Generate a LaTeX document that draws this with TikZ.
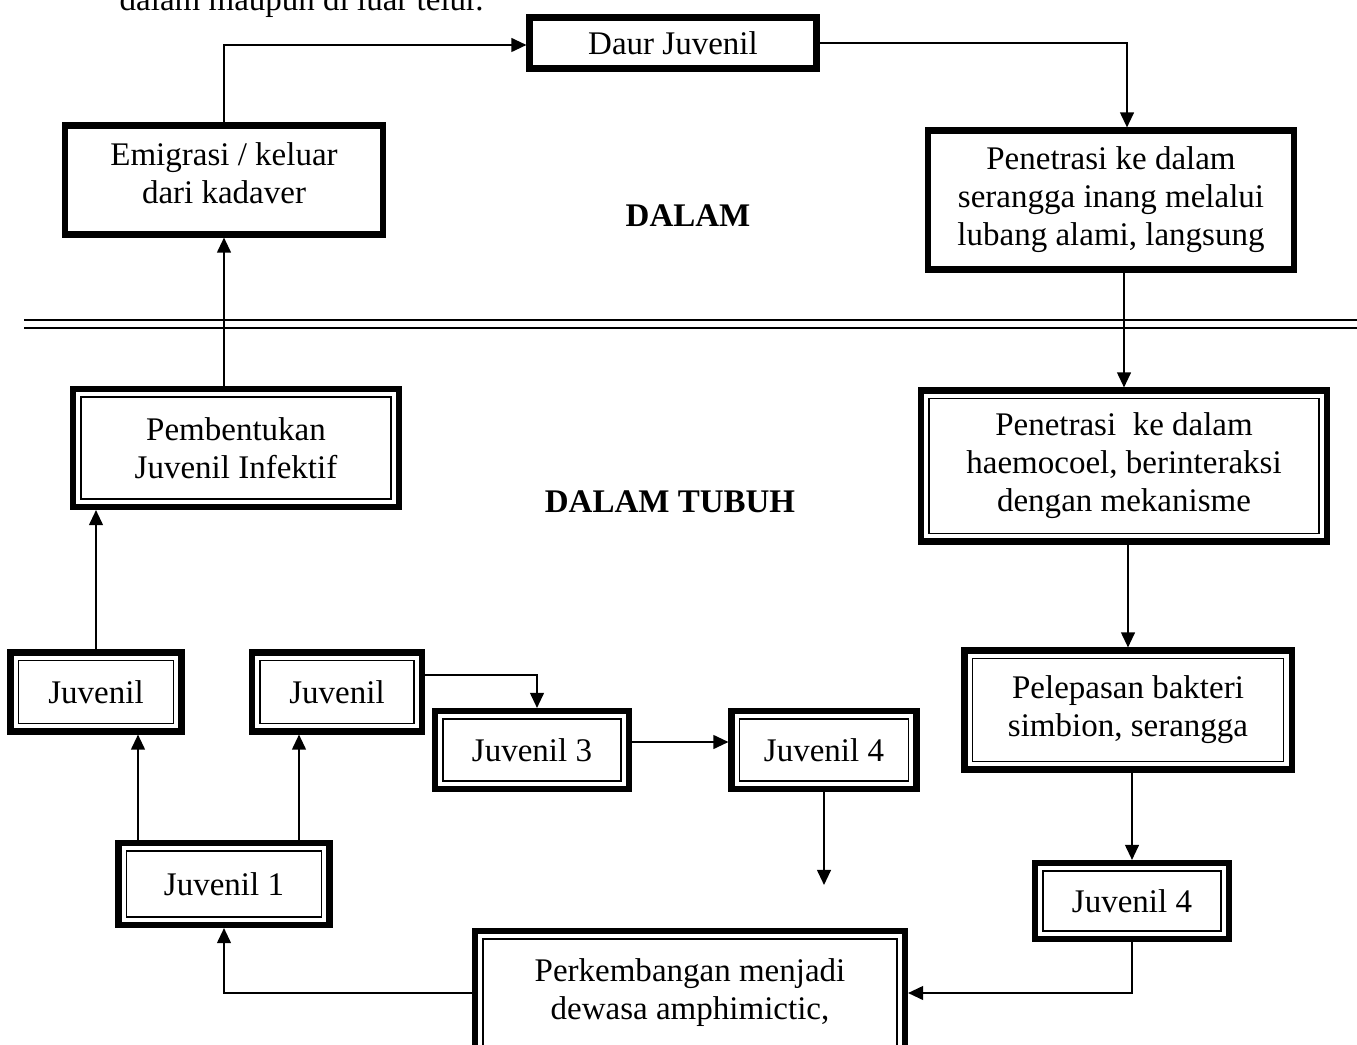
\documentclass[tikz,border=0pt]{standalone}
\usepackage{fontspec}
\setmainfont{Liberation Serif}
\usepackage{tikz}
\usetikzlibrary{positioning, calc, arrows.meta}
\newcommand{\px}{0.3636pt}
\tikzstyle{every node}=[font=\fontsize{12pt}{13.8pt}\selectfont]
\tikzstyle{thickBox}=[draw, line width=2.2pt, align=center, inner sep=0pt, fill=white]
\tikzstyle{doubleBox}=[thickBox, path picture={%
  \draw[line width=0.6pt]
    ([shift={(2.9pt,2.9pt)}]path picture bounding box.south west) rectangle
    ([shift={(-2.9pt,-2.9pt)}]path picture bounding box.north east);}]
\tikzstyle{arrow}=[line width=0.75pt, -{Triangle[width=5pt, length=5.5pt]}]
\tikzstyle{zoneLabel}=[font=\fontsize{12pt}{13.8pt}\selectfont\bfseries]
\tikzset{boxSize/.style 2 args={minimum width=#1*\px, minimum height=#2*\px}}

\begin{document}
\begin{tikzpicture}[x=\px, y=-\px]
  \useasboundingbox (0,0) rectangle (1357,1045);
  % outside the host
  \node[anchor=base west] (caption) at (110,11) {dalam maupun di luar telur.};
  \node[thickBox, boxSize={287}{51}] (daur) at (673,43) {Daur Juvenil};
  \node[thickBox, boxSize={318}{109}] (emig) at (224,180) {Emigrasi / keluar\\dari kadaver\\[-8.8pt]\mbox{}};
  \node[thickBox, boxSize={366}{139}] (pen1) at (1111,200)
    {Penetrasi ke dalam\\serangga inang melalui\\lubang alami, langsung};
  \node[zoneLabel] (dalam) at (688,216) {DALAM};
  % border between the zones
  \draw[line width=0.75pt] (24,320) -- (1357,320);
  \draw[line width=0.75pt] (24,328) -- (1357,328);
  % inside the host
  \node[zoneLabel] (tubuh) at (670,502) {DALAM TUBUH};
  \node[doubleBox, boxSize={326}{118}] (pemb) at (236,448) {Pembentukan\\Juvenil Infektif};
  \node[doubleBox, boxSize={406}{151}] (pen2) at (1124,466)
    {Penetrasi\ \ ke dalam\\haemocoel, berinteraksi\\dengan mekanisme};
  \node[doubleBox, boxSize={327}{119}] (pel) at (1128,710) {Pelepasan bakteri\\simbion, serangga};
  \node[doubleBox, boxSize={171}{79}] (ja) at (96,692) {Juvenil};
  \node[doubleBox, boxSize={170}{79}] (jb) at (337,692) {Juvenil};
  \node[doubleBox, boxSize={194}{78}] (j3) at (532,750) {Juvenil 3};
  \node[doubleBox, boxSize={185}{78}] (j4m) at (824,750) {Juvenil 4};
  \node[doubleBox, boxSize={211}{82}] (j1) at (224,884) {Juvenil 1};
  \node[doubleBox, boxSize={194}{76}] (j4r) at (1132,901) {Juvenil 4};
  \node[doubleBox, boxSize={430}{124}] (perk) at (690,993) {Perkembangan menjadi\\dewasa amphimictic,};
  \coordinate (j4end) at (824,885);

  % the cycle
  \draw[arrow] (emig.north) |- ($(daur.west)+(0,2)$);
  \draw[arrow] (daur.east) -| ($(pen1.north)+(16,0)$);
  \draw[arrow] (pen1.south -| pen2.north) -- (pen2.north);
  \draw[arrow] (pen2.south -| pel.north) -- (pel.north);
  \draw[arrow] (pel.south -| j4r.north) -- (j4r.north);
  \draw[arrow] (j4r.south) |- (perk.east);
  \draw[arrow] (perk.west) -| (j1.south);
  \draw[arrow] ($(j1.north)+(-86,0)$) -- ($(ja.south)+(42,0)$);
  \draw[arrow] ($(j1.north)+(75,0)$) -- ($(jb.south)+(-38,0)$);
  \draw[arrow] ($(jb.east)+(0,-17)$) -| ($(j3.north)+(5,0)$);
  \draw[arrow] ($(j3.east)+(0,-8)$) -- ($(j4m.west)+(0,-8)$);
  \draw[arrow] (j4m.south) -- (j4end);
  \draw[arrow] (ja.north) -- (ja.north |- pemb.south);
  \draw[arrow] (pemb.north -| emig.south) -- (emig.south);
\end{tikzpicture}
\end{document}
